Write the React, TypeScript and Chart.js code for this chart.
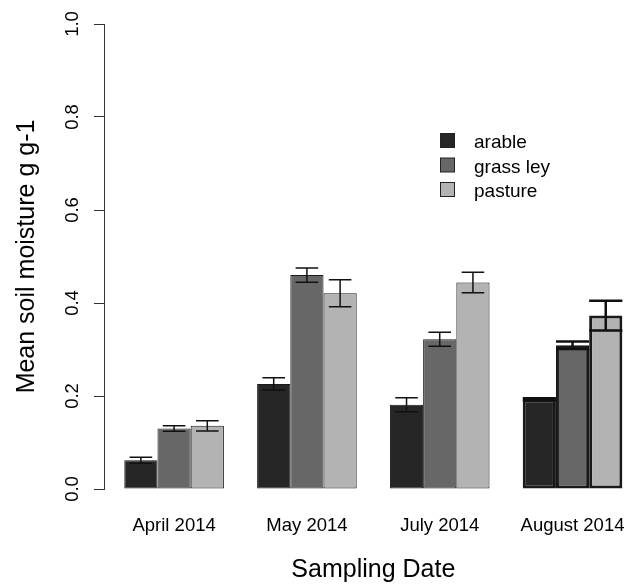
import React, { useEffect, useRef } from "react";
import { Chart, registerables } from "chart.js";

Chart.register(...registerables);

// ---- data ----
const categories = ["April 2014", "May 2014", "July 2014", "August 2014"];
const groupCenters = [2.5, 6.5, 10.5, 14.5];
const seriesNames = ["arable", "grass ley", "pasture"];
const arable = [0.062, 0.226, 0.181, 0.193];
const grassLey = [0.130, 0.460, 0.322, 0.309];
const pasture = [0.136, 0.421, 0.444, 0.373];
const arableErr = [0.0065, 0.013, 0.015, 0.002];
const grassLeyErr = [0.006, 0.0155, 0.015, 0.008];
const pastureErr = [0.011, 0.029, 0.022, 0.032];
const yTicks = [0, 0.2, 0.4, 0.6, 0.8, 1.0];
const xTitle = "Sampling Date";
const yTitle = "Mean soil moisture g g-1";

// ---- styles ----
const FONT = "'Liberation Sans', Arial, Helvetica, sans-serif";
const colors = ["#262626", "#676767", "#b3b3b3"];
const barBorderWidths = [1, 1, 1, 3];
const capFrac = [0.68, 0.68, 0.68, 1];
const errLineWidths = [1.5, 1.5, 1.5, 2.5];

const seriesValues = [arable, grassLey, pasture];
const seriesErrors = [arableErr, grassLeyErr, pastureErr];

const errorBarPlugin = {
  id: "errorBars",
  afterDatasetsDraw(chart: any) {
    const ctx = chart.ctx;
    const y = chart.scales.y;
    ctx.save();
    ctx.strokeStyle = "#111";
    chart.data.datasets.forEach((ds: any, i: number) => {
      const meta = chart.getDatasetMeta(i);
      meta.data.forEach((bar: any, j: number) => {
        const v = seriesValues[i][j];
        const e = seriesErrors[i][j];
        const top = y.getPixelForValue(v + e);
        const bot = y.getPixelForValue(v - e);
        const half = (bar.width * capFrac[j]) / 2;
        ctx.lineWidth = errLineWidths[j];
        ctx.beginPath();
        ctx.moveTo(bar.x, top);
        ctx.lineTo(bar.x, bot);
        ctx.moveTo(bar.x - half, top);
        ctx.lineTo(bar.x + half, top);
        ctx.moveTo(bar.x - half, bot);
        ctx.lineTo(bar.x + half, bot);
        ctx.stroke();
      });
    });
    ctx.restore();
  },
};

const legendAndTitlePlugin = {
  id: "legendAndTitle",
  afterDraw(chart: any) {
    const ctx = chart.ctx;
    const x = chart.scales.x;
    ctx.save();
    // x axis title, centred on the plot region
    ctx.fillStyle = "#000";
    ctx.font = `25px ${FONT}`;
    ctx.textAlign = "center";
    ctx.textBaseline = "alphabetic";
    ctx.fillText(xTitle, x.getPixelForValue(8.5), 577);
    // legend
    ctx.font = `19px ${FONT}`;
    ctx.textAlign = "left";
    const baselines = [148, 172.5, 197];
    chart.data.datasets.forEach((ds: any, i: number) => {
      const by = baselines[i];
      ctx.fillStyle = ds.backgroundColor;
      ctx.fillRect(440.5, by - 14.5, 14, 14);
      ctx.strokeStyle = "#222";
      ctx.lineWidth = 1;
      ctx.strokeRect(440.5, by - 14.5, 14, 14);
      ctx.fillStyle = "#000";
      ctx.fillText(ds.label, 474, by);
    });
    ctx.restore();
  },
};

export default function App() {
  const ref = useRef<HTMLCanvasElement>(null);
  useEffect(() => {
    if (!ref.current) return;
    const chart = new Chart(ref.current, {
      type: "bar",
      data: {
        datasets: seriesValues.map((vals, i) => ({
          label: seriesNames[i],
          data: vals.map((v, j) => ({ x: groupCenters[j], y: v })),
          backgroundColor: colors[i],
          borderColor: "#1a1a1a",
          borderWidth: barBorderWidths,
          borderSkipped: false,
          categoryPercentage: 0.75,
          barPercentage: 1,
        })) as any,
      },
      options: {
        animation: false,
        responsive: false,
        maintainAspectRatio: false,
        layout: { padding: { top: 24, left: 0, right: 0, bottom: 0 } },
        plugins: { legend: { display: false }, tooltip: { enabled: false } },
        scales: {
          x: {
            type: "linear",
            min: 0.389,
            max: 16.14,
            offset: false,
            grid: {
              display: true,
              drawOnChartArea: false,
              drawTicks: true,
              tickLength: 26,
              color: "rgba(0,0,0,0)",
            },
            border: { display: false },
            afterBuildTicks: (s: any) => {
              s.ticks = groupCenters.map((v) => ({ value: v }));
            },
            afterFit: (s: any) => {
              s.height = 96;
            },
            ticks: {
              autoSkip: false,
              maxRotation: 0,
              minRotation: 0,
              padding: 0,
              color: "#000",
              font: { family: FONT, size: 18.5 },
              callback: (v: any) => {
                const k = groupCenters.indexOf(Number(v));
                return k >= 0 ? categories[k] : "";
              },
            },
          },
          y: {
            type: "linear",
            min: 0,
            max: 1,
            afterBuildTicks: (s: any) => {
              s.ticks = yTicks.map((v) => ({ value: v }));
            },
            afterFit: (s: any) => {
              s.width = 104;
            },
            grid: {
              drawOnChartArea: false,
              drawTicks: true,
              tickLength: 10,
              color: "#333",
              lineWidth: 1,
            },
            border: { display: true, color: "#333", width: 1 },
            ticks: {
              minRotation: 90,
              maxRotation: 90,
              crossAlign: "center",
              padding: 8,
              color: "#000",
              font: { family: FONT, size: 18.5 },
              callback: (v: any) => Number(v).toFixed(1),
            },
            title: {
              display: true,
              text: yTitle,
              color: "#000",
              font: { family: FONT, size: 25 },
              padding: { top: 12, bottom: 0 },
            },
          },
        },
      } as any,
      plugins: [errorBarPlugin, legendAndTitlePlugin],
    });
    return () => chart.destroy();
  }, []);
  return (
    <div style={{ position: "fixed", left: 0, top: 0, width: 627, height: 585, background: "#fff" }}>
      <canvas ref={ref} width={627} height={585} style={{ display: "block", width: 627, height: 585 }} />
    </div>
  );
}
